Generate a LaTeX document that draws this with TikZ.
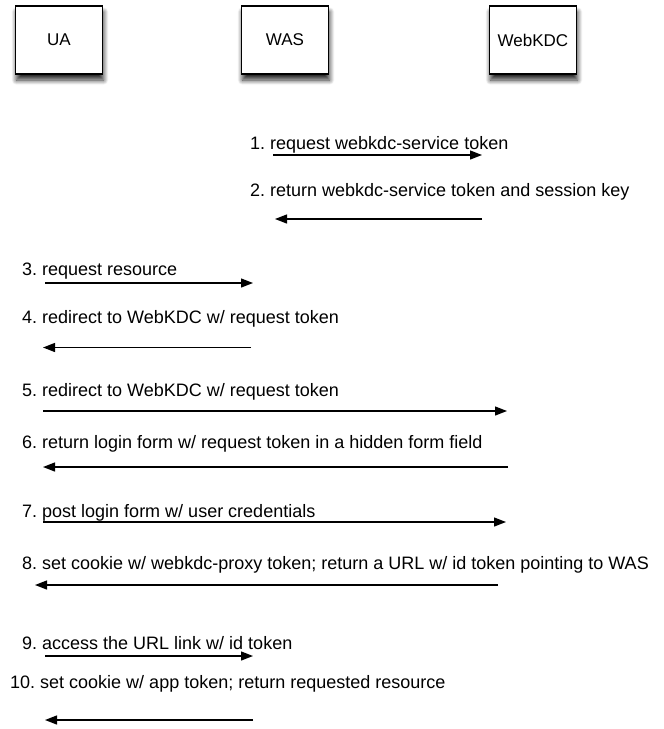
\documentclass[tikz,border=0pt]{standalone}
\usepackage{fontspec}
\setmainfont{Liberation Sans}
\frenchspacing
\usetikzlibrary{
  arrows.meta,
  positioning,
  shadows.blur
}
\tikzset{
  party/.style={
    rectangle,
    draw,
    line width=1.1pt,
    fill=white,
    minimum width=87pt,
    minimum height=68pt,
    font=\fontsize{17}{20}\selectfont,
    blur shadow={shadow xshift=1pt, shadow yshift=-6pt, shadow blur radius=5pt, shadow blur steps=10, shadow opacity=85}
  }
}
\tikzset{
  msgLabel/.style={
    anchor=base west,
    inner sep=0pt,
    font=\fontsize{18}{21}\selectfont
  }
}
\tikzset{
  msg/.style={
    -{Triangle[length=12pt,width=9pt]},
    line width=1.3pt
  }
}
% #1 name, #2 label x, #3 label baseline, #4 text, #5 arrow y, #6 from x, #7 to x
\newcommand{\msgStep}[7]{
  \node[msgLabel] (#1) at (#2,#3) {#4};
  \coordinate (#1from) at (#6,#5);
  \coordinate (#1to) at (#7,#5);
  \draw[msg] (#1from) -- (#1to);
}

\begin{document}
\begin{tikzpicture}[x=1pt, y=-1pt]
  \useasboundingbox (0,0) rectangle (664,729);
  \node[party] (ua) at (59,40) {UA};
  \node[party] (was) at (285,40) {WAS};
  \node[party] (kdc) at (533,40) {WebKDC};

  \msgStep{m1}{250}{149.5}{1. request webkdc-service token}{155}{273}{482}
  \msgStep{m2}{250}{196.5}{2. return webkdc-service token and session key}{219}{482}{275}
  \msgStep{m3}{22}{275.5}{3. request resource}{283}{45}{253}
  \msgStep{m4}{22}{323.5}{4. redirect to WebKDC w/ request token}{347.5}{251}{43}
  \msgStep{m5}{22}{396.5}{5. redirect to WebKDC w/ request token}{411}{43}{507}
  \msgStep{m6}{22}{448.5}{6. return login form w/ request token in a hidden form field}{467}{508}{43}
  \msgStep{m7}{22}{517.5}{7. post login form w/ user credentials}{522}{43}{506}
  \msgStep{m8}{22}{569.5}{8. set cookie w/ webkdc-proxy token; return a URL w/ id token pointing to WAS}{585}{498}{35}
  \msgStep{m9}{22}{649.5}{9. access the URL link w/ id token}{656}{45}{253}
  \msgStep{m10}{10}{688.5}{10. set cookie w/ app token; return requested resource}{720}{253}{45}
\end{tikzpicture}
\end{document}
